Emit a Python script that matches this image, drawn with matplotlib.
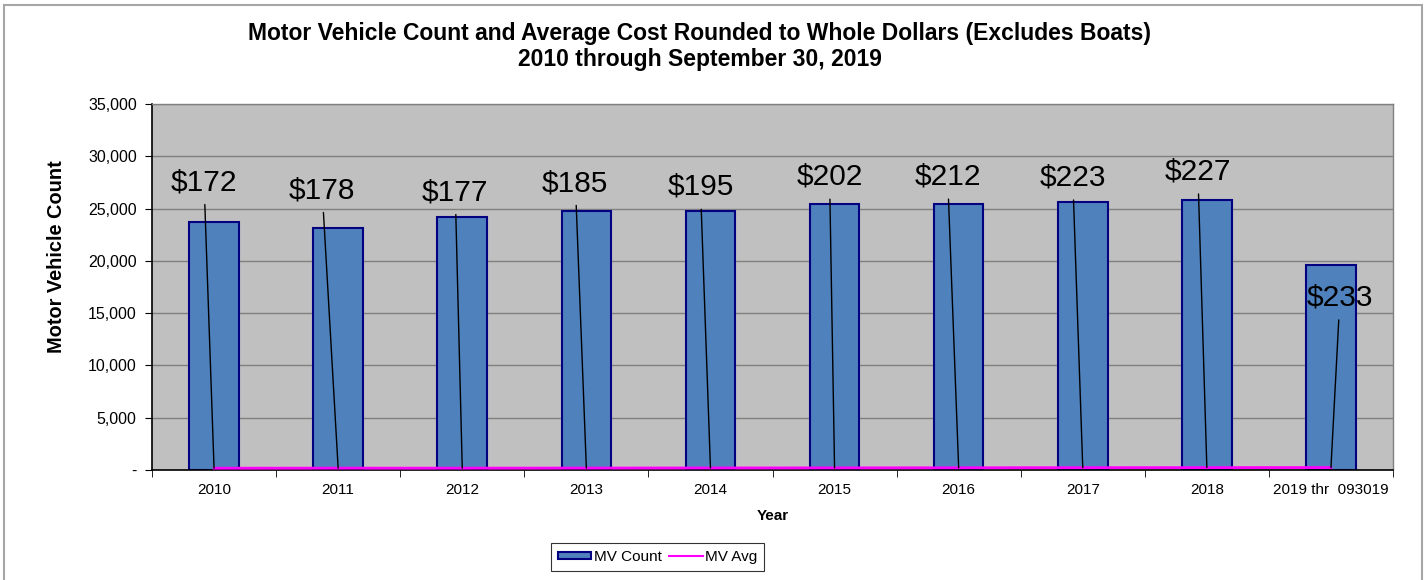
import matplotlib.pyplot as plt
import matplotlib.patches as mpatches
from matplotlib.lines import Line2D
from matplotlib.ticker import FuncFormatter, MultipleLocator
import numpy as np

plt.rcParams['font.family'] = ['Liberation Sans', 'DejaVu Sans']

# Data
years = ['2010', '2011', '2012', '2013', '2014', '2015', '2016', '2017', '2018', '2019 thr  093019']
mv_count = [23700, 23170, 24220, 24740, 24770, 25470, 25440, 25660, 25790, 19580]
mv_avg = [172, 178, 177, 185, 195, 202, 212, 223, 227, 233]

# label offsets (pixels) from each avg point, as dragged in the original
label_dx = [-10, -16, -7, -11, -10, -5, -11, -10, -9, 9]
label_dy = [286, 278, 276, 285, 281, 291, 291, 290, 296, 170]

fig = plt.figure(figsize=(14.24, 5.8), dpi=100)
ax = fig.add_axes([152/1424, 1 - 470/580, (1393 - 152)/1424, (470 - 104)/580])

# outer chart border
fig.patches.append(mpatches.Rectangle((4/1424, -0.02), (1422 - 4)/1424, 1 - 5/580 + 0.02,
                                      transform=fig.transFigure, fill=False,
                                      edgecolor='#a6a6a6', linewidth=1.5))

x = np.arange(len(years))
ax.set_facecolor('#c0c0c0')
ax.bar(x, mv_count, width=0.4, color='#4f81bd', edgecolor='#000080', linewidth=1.5,
       label='MV Count', zorder=2)
ax.plot(x, mv_avg, color='#ff00ff', linewidth=2, label='MV Avg', zorder=3)

for i in range(len(years)):
    ax.annotate(f'${mv_avg[i]}', xy=(x[i], mv_avg[i]), xytext=(label_dx[i], label_dy[i]),
                textcoords='offset pixels', ha='center', va='center', fontsize=21.5,
                color='black', zorder=4,
                arrowprops=dict(arrowstyle='-', color='black', lw=1, shrinkA=4, shrinkB=0))

ax.set_xlim(-0.5, len(years) - 0.5)
ax.set_ylim(0, 35000)
ax.yaxis.set_major_locator(MultipleLocator(5000))
ax.yaxis.set_major_formatter(FuncFormatter(lambda v, p: '-' if v == 0 else f'{v:,.0f}'))
ax.grid(axis='y', color='#808080', linewidth=1, zorder=1)
ax.set_axisbelow(True)

ax.set_xticks(x)
ax.set_xticklabels(years)
ax.set_xticks(np.arange(-0.5, len(years), 1), minor=True)
ax.tick_params(axis='x', which='major', length=0, pad=9, labelsize=11)
ax.tick_params(axis='x', which='minor', length=5, direction='out', color='black')
ax.tick_params(axis='y', length=5, direction='out', labelsize=11.5, pad=6)

for s in ['left', 'bottom']:
    ax.spines[s].set_color('black')
    ax.spines[s].set_linewidth(1.2)
for s in ['top', 'right']:
    ax.spines[s].set_color('#808080')
    ax.spines[s].set_linewidth(1)

ax.set_xlabel('Year', fontsize=11, fontweight='bold', labelpad=9)
ax.set_ylabel('Motor Vehicle Count', fontsize=14.4, fontweight='bold', labelpad=12)
ax.yaxis.set_label_coords(-0.069, 0.582)

fig.suptitle('Motor Vehicle Count and Average Cost Rounded to Whole Dollars (Excludes Boats)\n'
             '2010 through September 30, 2019', fontsize=16.5, fontweight='bold',
             x=700/1424, y=1 - 22/580, va='top', linespacing=1.15)

handles = [mpatches.Patch(facecolor='#4f81bd', edgecolor='#000080', linewidth=1.5),
           Line2D([0], [0], color='#ff00ff', linewidth=1.5)]
leg = fig.legend(handles, ['MV Count', 'MV Avg'], loc='center', ncol=2,
                 bbox_to_anchor=(657.5/1424, 1 - 557/580), fontsize=11, frameon=True,
                 fancybox=False, edgecolor='black', handlelength=2.2, handleheight=0.4,
                 handletextpad=0.15, columnspacing=0.5, borderpad=0.45, borderaxespad=0)
leg.get_frame().set_linewidth(0.8)

fig.savefig('out.png', dpi=100)
